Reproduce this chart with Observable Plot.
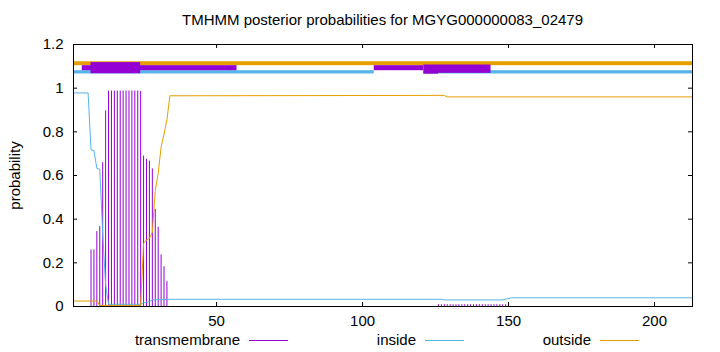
<!DOCTYPE html>
<html><head><meta charset="utf-8">
<script src="https://cdn.jsdelivr.net/npm/d3@7"></script>
<script src="https://cdn.jsdelivr.net/npm/@observablehq/plot@0.6"></script>
<style>
body{margin:0;background:#fff;}
#wrap{position:relative;width:720px;height:352px;font-family:"Liberation Sans",Arial,Helvetica,sans-serif;color:#000;overflow:hidden;}
#chart{position:absolute;left:0;top:0;}
#title{position:absolute;left:73px;width:619px;top:12px;text-align:center;font-size:15px;line-height:16px;white-space:nowrap;}
.lt{position:absolute;top:332px;font-size:15px;line-height:16px;text-align:right;white-space:nowrap;}
.ls{position:absolute;top:340px;height:1px;width:39px;}
</style></head>
<body><div id="wrap"><div id="chart"></div><div id="title"></div></div>
<script>
const titleText = "TMHMM posterior probabilities for MGYG000000083_02479";
const yLabel = "probability";
const xTicks = [50, 100, 150, 200];
const yTicks = [0, 0.2, 0.4, 0.6, 0.8, 1, 1.2];
const yTickLabels = ["0", "0.2", "0.4", "0.6", "0.8", "1", "1.2"];
const legendLabels = ["transmembrane", "inside", "outside"];
const colors = {tm: "#9400d3", inside: "#56b4e9", outside: "#e69f00"};

// transmembrane posterior (impulses)
const tmPos = [7,8,9,10,11,12,13,14,15,16,17,18,19,20,21,22,23,24,25,26,27,28,29,30,31,32,33,
  126,127,128,129,130,131,132,133,134,135,136,137,138,139,140,141,142,143,144,145,146,147,148,149,150];
const tmVal = [0.259,0.259,0.343,0.366,0.659,0.896,0.987,0.987,0.987,0.987,0.987,0.987,0.987,0.987,0.987,0.987,0.987,0.985,
  0.689,0.674,0.666,0.630,0.445,0.363,0.236,0.182,0.114,
  0.008,0.008,0.008,0.008,0.008,0.008,0.008,0.008,0.008,0.008,0.008,0.008,0.008,0.008,0.008,0.008,0.008,0.008,0.008,0.008,0.008,0.008,0.008,0.008,0.008];

// inside posterior (line)
const inPos = [1,6,7,8,9,10,11,12,13,24,25,26,27,28,34,127,128,148,151,213];
const inVal = [0.978,0.978,0.717,0.715,0.632,0.629,0.336,0.100,0.010,0.010,0.017,0.020,0.022,0.030,0.033,0.033,0.030,0.030,0.040,0.040];

// outside posterior (line)
const outPos = [1,9,10,24,25,26,27,28,29,30,31,32,33,34,128,129,213];
const outVal = [0.025,0.025,0.005,0.005,0.290,0.305,0.312,0.340,0.530,0.610,0.730,0.790,0.855,0.965,0.967,0.960,0.960];

// topology bars at top
const barX1 = [1, 1, 121, 4, 104, 7, 121, 121];
const barX2 = [213, 104, 213, 57, 121, 24, 144, 126];
const barY1 = [1.103, 1.065, 1.065, 1.080, 1.080, 1.066, 1.068, 1.064];
const barY2 = [1.121, 1.080, 1.080, 1.103, 1.103, 1.117, 1.106, 1.072];
const barKind = ["outside", "inside", "inside", "tm", "tm", "tm", "tm", "tm"];

const tm = tmPos.map((x, i) => ({x, v: tmVal[i]}));
const inside = inPos.map((x, i) => ({x, v: inVal[i]}));
const outside = outPos.map((x, i) => ({x, v: outVal[i]}));
const bars = barX1.map((x1, i) => ({x1, x2: barX2[i], y1: barY1[i], y2: barY2[i], k: barKind[i]}));

const W = 720, H = 352, mT = 44, mB = 46, mL = 73, mR = 28;
const fH = H - mT - mB, fW = W - mL - mR, tl = 4;

const svg = Plot.plot({
  width: W, height: H,
  marginTop: mT, marginBottom: mB, marginLeft: mL, marginRight: mR,
  style: {fontFamily: '"Liberation Sans",Arial,Helvetica,sans-serif', fontSize: "15px", background: "#fff", color: "#000"},
  x: {domain: [1, 213]},
  y: {domain: [0, 1.2]},
  marks: [
    Plot.rect(bars, {x1: "x1", x2: "x2", y1: "y1", y2: "y2", fill: d => colors[d.k]}),
    Plot.ruleX(tm, {x: "x", y1: 0, y2: "v", stroke: colors.tm, strokeWidth: 1}),
    Plot.line(inside, {x: "x", y: "v", stroke: colors.inside, strokeWidth: 1}),
    Plot.line(outside, {x: "x", y: "v", stroke: colors.outside, strokeWidth: 1}),
    Plot.ruleX(xTicks, {x: d => d, insetTop: fH - tl, stroke: "#000"}),
    Plot.ruleX(xTicks, {x: d => d, insetBottom: fH - tl, stroke: "#000"}),
    Plot.ruleY(yTicks, {y: d => d, insetRight: fW - tl, stroke: "#000"}),
    Plot.ruleY(yTicks, {y: d => d, insetLeft: fW - tl, stroke: "#000"}),
    Plot.frame({stroke: "#000", strokeWidth: 1}),
    Plot.axisX({ticks: xTicks, tickSize: 0, tickPadding: 9, label: null, tickFormat: d => String(d), fontSize: 15}),
    Plot.axisY({ticks: yTicks, tickSize: 0, tickPadding: 10, label: null, tickFormat: d => yTickLabels[yTicks.indexOf(d)], fontSize: 15}),
    Plot.text([yLabel], {frameAnchor: "left", text: d => d, rotate: -90, dx: -58, textAnchor: "middle", fontSize: 15})
  ]
});
document.getElementById("chart").appendChild(svg);
document.getElementById("title").textContent = titleText;

const wrap = document.getElementById("wrap");
const legendRight = [240, 416, 591];
const legendColors = [colors.tm, colors.inside, colors.outside];
legendLabels.forEach((t, i) => {
  const d = document.createElement("div");
  d.className = "lt";
  d.style.right = (720 - legendRight[i]) + "px";
  d.textContent = t;
  wrap.appendChild(d);
  const s = document.createElement("div");
  s.className = "ls";
  s.style.left = (legendRight[i] + 9) + "px";
  s.style.background = legendColors[i];
  wrap.appendChild(s);
});
</script></body></html>
